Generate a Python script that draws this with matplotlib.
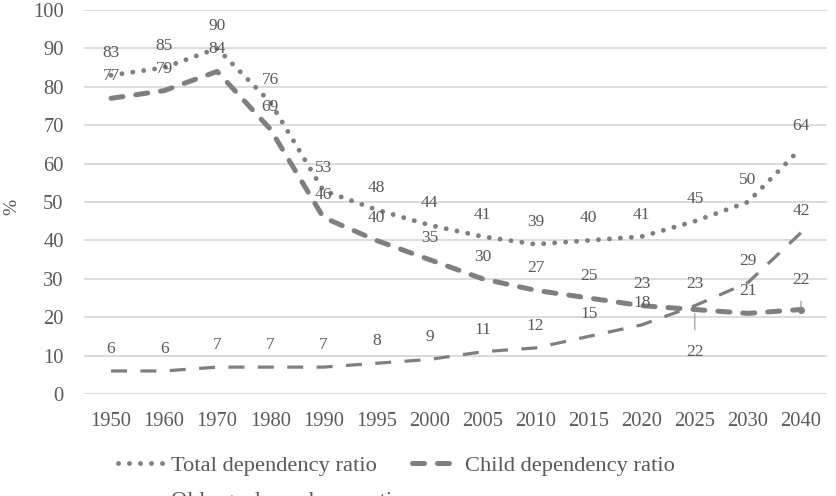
import matplotlib
matplotlib.use("Agg")
import matplotlib.pyplot as plt
import numpy as np

years = ["1950", "1960", "1970", "1980", "1990", "1995", "2000", "2005",
         "2010", "2015", "2020", "2025", "2030", "2040"]
total = [83, 85, 90, 76, 53, 48, 44, 41, 39, 40, 41, 45, 50, 64]
child = [77, 79, 84, 69, 46, 40, 35, 30, 27, 25, 23, 22, 21, 22]
old = [6, 6, 7, 7, 7, 8, 9, 11, 12, 15, 18, 23, 29, 42]
yticks = [0, 10, 20, 30, 40, 50, 60, 70, 80, 90, 100]

plt.rcParams['font.family'] = ['Liberation Serif', 'DejaVu Serif']
TXT = "#595959"
LINE = "#7f7f7f"

W, H = 837, 496
fig = plt.figure(figsize=(W / 100, H / 100), dpi=100)
ax = fig.add_axes([84.5 / W, (H - 394) / H, (827.5 - 84.5) / W, (394 - 10) / H])

x = np.arange(len(years))

l_total, = ax.plot(x, total, color=LINE, lw=3.5, linestyle=(0, (0.01, 2.25)),
                   dash_capstyle='round', label="Total dependency ratio", zorder=3)
l_child, = ax.plot(x, child, color=LINE, lw=3.6, linestyle=(0, (2.4, 2.6)),
                   dash_capstyle='round', label="Child dependency ratio", zorder=3)
l_old, = ax.plot(x, old, color=LINE, lw=2.3, linestyle=(0, (5, 4.2)),
                 dash_capstyle='butt', label="Old-age dependency ratio", zorder=3)

lab_fs = 12.5
def label(xi, yi, txt, dy=22):
    ax.annotate(txt, (xi, yi), xytext=(0, dy), textcoords='offset pixels',
                ha='center', va='center', fontsize=lab_fs, color=TXT, zorder=4)

for i in range(len(years)):
    label(x[i], total[i], str(total[i]))
    label(x[i], old[i], str(old[i]))
    if i == 11:
        ax.annotate(str(child[i]), (x[i], child[i]), xytext=(0, -42),
                    textcoords='offset pixels', ha='center', va='center',
                    fontsize=lab_fs, color=TXT, zorder=4,
                    arrowprops=dict(arrowstyle='-', color='#a6a6a6', lw=1,
                                    shrinkA=8, shrinkB=3))
    elif i == 13:
        ax.annotate(str(child[i]), (x[i], child[i]), xytext=(0, 30),
                    textcoords='offset pixels', ha='center', va='center',
                    fontsize=lab_fs, color=TXT, zorder=4,
                    arrowprops=dict(arrowstyle='-', color='#a6a6a6', lw=1,
                                    shrinkA=8, shrinkB=0))
        ax.plot([x[i]], [child[i]], 'o', color=LINE, ms=4, zorder=4)
    else:
        label(x[i], child[i], str(child[i]))

ax.set_xlim(-0.5, len(years) - 0.5)
ax.set_ylim(0, 100)
ax.set_yticks(yticks)
ax.set_xticks(x)
ax.set_xticklabels(years)
ax.tick_params(axis='both', length=0, labelsize=14.8, labelcolor=TXT)
ax.tick_params(axis='y', pad=15)
ax.tick_params(axis='x', pad=13)
ax.grid(axis='y', color='#d9d9d9', lw=1.3)
ax.set_axisbelow(True)
for s in ax.spines.values():
    s.set_visible(False)

fig.text(12 / W, 1 - 207 / H, '%', rotation=90, ha='center', va='center',
         fontsize=14, color=TXT)

leg = fig.legend(handles=[l_total, l_old, l_child], ncol=2, loc='upper left',
                 bbox_to_anchor=(118 / W, 1 - 455 / H), frameon=False,
                 fontsize=16.2, labelcolor=TXT, handlelength=2.2,
                 handletextpad=0.15, columnspacing=0.4, borderpad=0,
                 borderaxespad=0, labelspacing=0.65)

fig.savefig("out.png", dpi=100)
